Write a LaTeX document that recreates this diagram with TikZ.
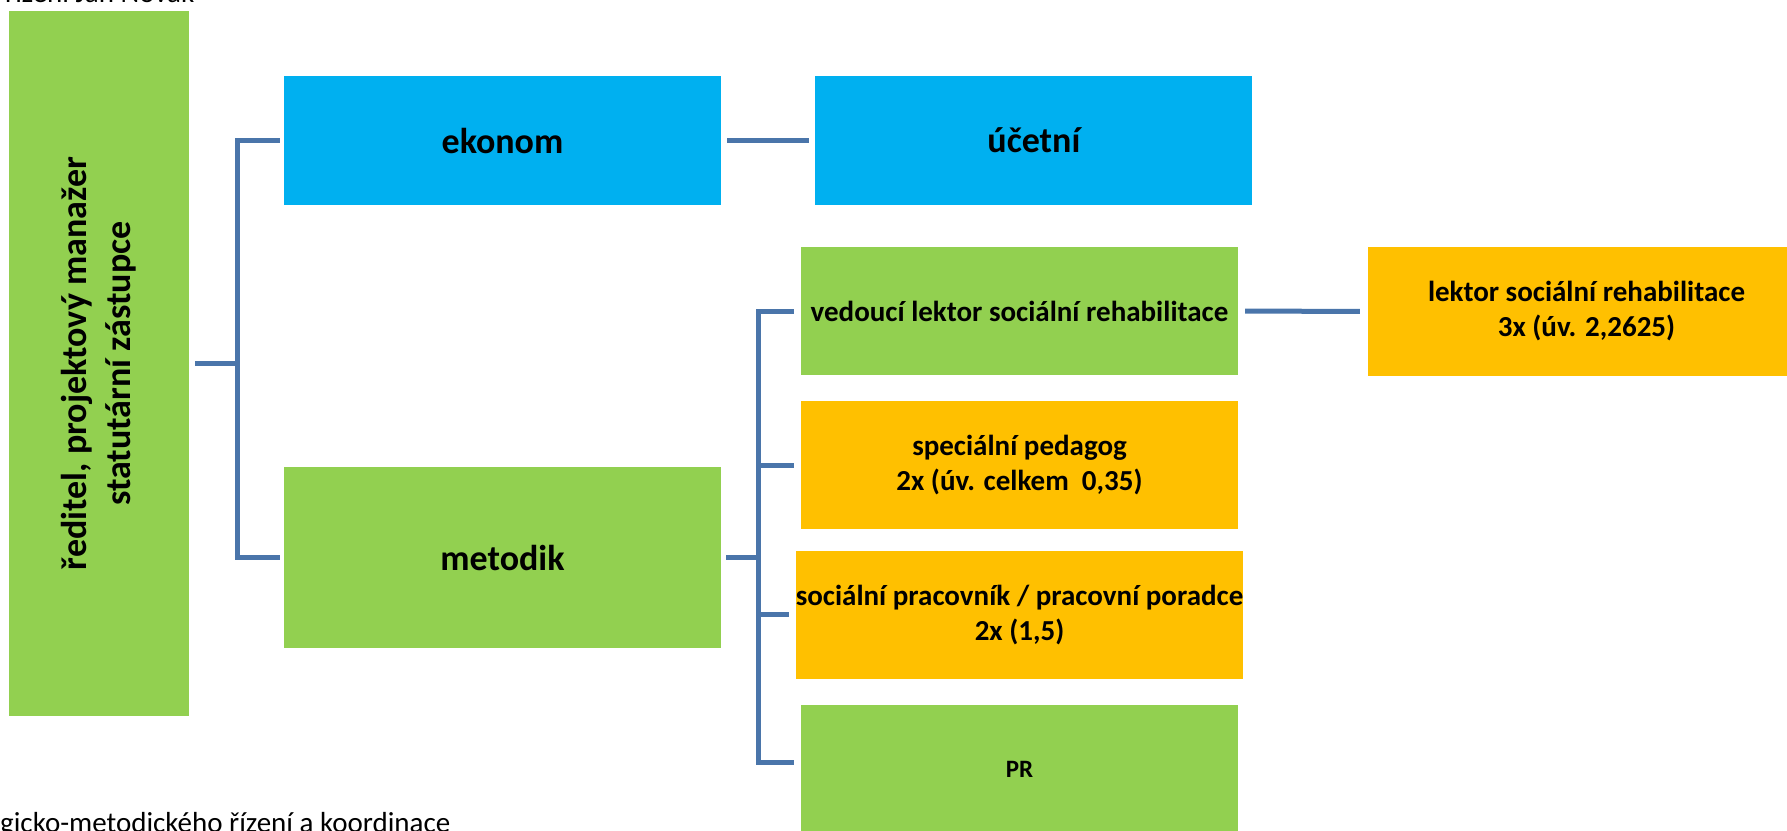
\documentclass[tikz,border=0pt]{standalone}
\usepackage{fontspec}
\setmainfont{Carlito}
\usepackage{tikz}
\usetikzlibrary{positioning}
\definecolor{boxgreen}{HTML}{92D050}
\definecolor{boxblue}{HTML}{00B0F0}
\definecolor{boxorange}{HTML}{FFC000}
\definecolor{linkblue}{HTML}{4A75AA}
\tikzset{
  box/.style={rectangle, inner sep=0pt, align=center, text=black, minimum width=437pt, minimum height=128pt, font=\bfseries\fontsize{29}{35}\selectfont},
  greenbox/.style={box, fill=boxgreen},
  bluebox/.style={box, fill=boxblue, font=\bfseries\fontsize{36}{44}\selectfont},
  orangebox/.style={box, fill=boxorange},
  link/.style={draw=linkblue, line width=5pt, shorten <=6pt, shorten >=6pt},
  note/.style={anchor=base west, inner sep=0pt, font=\fontsize{29}{35}\selectfont}
}
\begin{document}
\begin{tikzpicture}[x=1pt, y=-1pt]
    \clip (0,0) rectangle (1787,830);
    \node[note] (hdr) at (5,2) {řízení Jan Novák};
    \node[note] (ftr) at (0,832) {gicko-metodického řízení a koordinace};
    \node[greenbox, rotate=90, minimum width=705pt, minimum height=180pt, font=\bfseries\fontsize{36}{44}\selectfont] (dir) at (99,363.5) {ředitel, projektový manažer\\statutární zástupce};
    \node[bluebox, minimum height=129pt] (ekonom) at (502.5,140.5) {ekonom};
    \node[bluebox, minimum height=129pt, right=94pt of ekonom] (ucetni) {účetní};
    \node[greenbox, minimum height=181pt, font=\bfseries\fontsize{36}{44}\selectfont] (metodik) at (502.5,557.5) {metodik};
    \node[greenbox] (vedouci) at (1019.5,311) {vedoucí lektor sociální rehabilitace};
    \node[orangebox, below=26pt of vedouci] (specped) {speciální pedagog\\2x (úv. celkem\ \ 0,35)};
    \node[orangebox, below=21pt of specped] (socprac) {sociální pracovník / pracovní poradce\\2x (1,5)};
    \node[greenbox, below=26pt of socprac, font=\bfseries\fontsize{25}{30}\selectfont] (pr) {PR};
    \node[orangebox, minimum height=129pt] (lektor) at (1586.5,311.5) {lektor sociální rehabilitace\\3x (úv. 2,2625)};
    \coordinate (busa) at (237,0);
    \coordinate (busb) at (758,0);
    \draw[link, shorten >=0pt] (dir.south) -- (dir.south -| busa);
    \draw[link, shorten <=4pt, shorten >=4pt] (ekonom.west) -| (busa |- metodik.west) -- (metodik.west);
    \draw[link] (ekonom.east) -- (ucetni.west);
    \draw[link, shorten >=0pt, shorten <=5pt] (metodik.east) -- (metodik.east -| busb);
    \draw[link, shorten <=7pt, shorten >=0pt] (vedouci.west) -| ([yshift=7pt]busb |- pr.west) -- ([yshift=7pt,xshift=-7pt]pr.west);
    \draw[link, shorten <=7pt, shorten >=0pt] (specped.west) -- (specped.west -| busb);
    \draw[link, shorten <=7pt, shorten >=0pt] (socprac.west) -- (socprac.west -| busb);
    \draw[link, shorten <=7pt, shorten >=8pt] (vedouci.east) -- (lektor.west);
\end{tikzpicture}
\end{document}
